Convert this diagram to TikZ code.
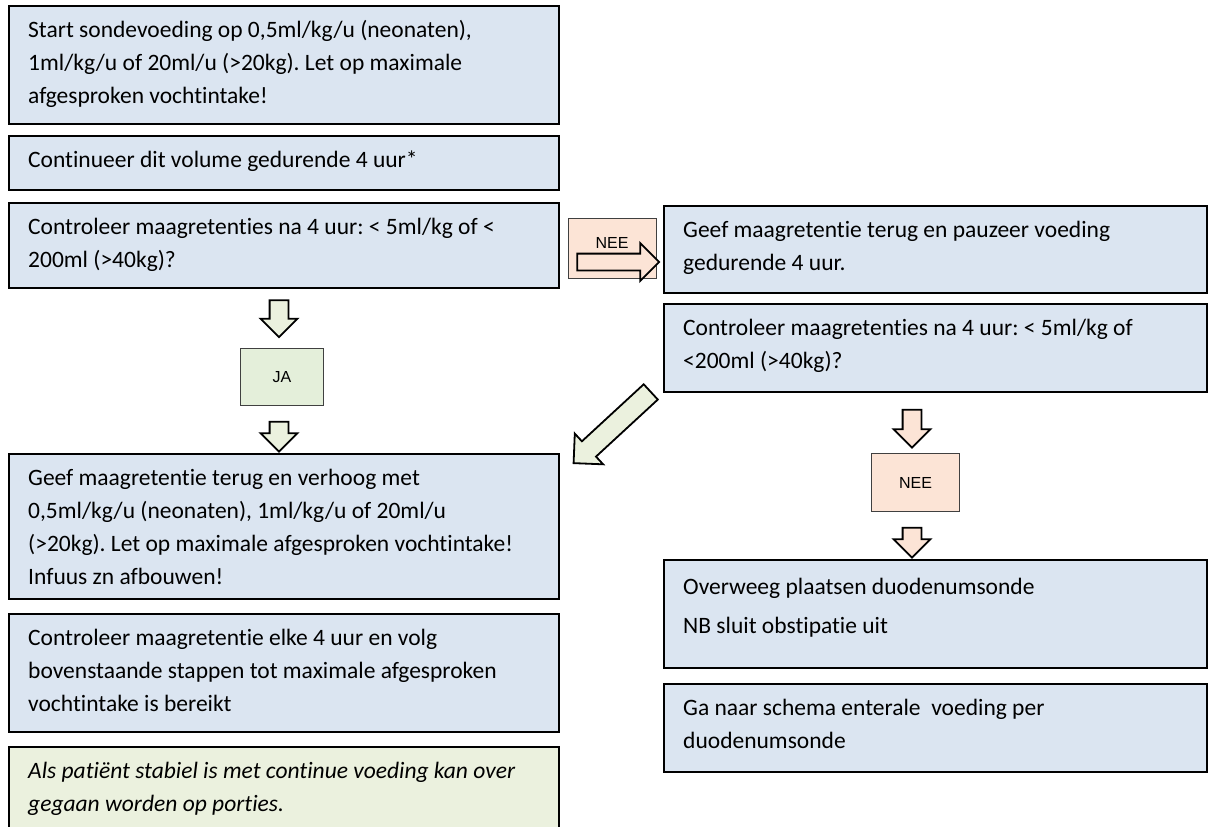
\documentclass[tikz,border=0pt]{standalone}
\usepackage{fontspec}
\setmainfont{Carlito}[Ligatures=NoCommon]
\newfontfamily\labelfont{Liberation Sans}
\frenchspacing
\usetikzlibrary{shapes.arrows,calc}
\definecolor{stepblue}{HTML}{DBE5F1}
\definecolor{notegreen}{HTML}{EBF1DE}
\definecolor{yesgreen}{HTML}{E4EFDA}
\definecolor{nopeach}{HTML}{FCE4D6}
\tikzset{
  stepbox/.style={draw=black, line width=1.8pt, fill=stepblue, anchor=north west, inner sep=0pt},
  steptext/.style={anchor=north west, inner sep=0pt, align=left, font=\fontsize{23.5}{33}\selectfont},
  labelbox/.style={draw=black!75, line width=1pt, anchor=north west, inner sep=0pt},
  labeltext/.style={inner sep=0pt, font=\labelfont\fontsize{16}{19}\selectfont},
  blockarrow/.style={single arrow, draw=black, line width=1.8pt, inner xsep=0pt,
    inner ysep=8.5pt, single arrow head extend=9pt, minimum width=35pt, minimum height=37pt},
}
\begin{document}
\begin{tikzpicture}[x=1pt,y=-1pt]
\useasboundingbox (0,0) rectangle (1208,827);

% left column
\node[stepbox, minimum width=550, minimum height=118] (s1) at (8,5) {};
\node[steptext] (t1) at ($(s1.north west)+(20,9)$) {\strut Start sondevoeding op 0,5ml/kg/u (neonaten),\\1ml/kg/u of 20ml/u (>20kg). Let op maximale\\afgesproken vochtintake!};

\node[stepbox, minimum width=550, minimum height=54] (s2) at (8,135) {};
\node[steptext] (t2) at ($(s2.north west)+(20,9)$) {\strut Continueer dit volume gedurende 4 uur*};

\node[stepbox, minimum width=550, minimum height=85] (s3) at (8,202) {};
\node[steptext] (t3) at ($(s3.north west)+(20,9)$) {\strut Controleer maagretenties na 4 uur: < 5ml/kg of <\\200ml (>40kg)?};

\node[blockarrow, fill=notegreen, rotate=-90] (a1) at (279,314) {};
\node[labelbox, fill=yesgreen, minimum width=83, minimum height=57] (ja) at (240,348) {};
\node[labeltext] (jat) at (ja.center) {JA};
\node[blockarrow, fill=notegreen, rotate=-90, minimum height=30pt] (a2) at (279,432) {};

\node[stepbox, minimum width=550, minimum height=145] (s4) at (8,453) {};
\node[steptext] (t4) at ($(s4.north west)+(20,9)$) {\strut Geef maagretentie terug en verhoog met\\0,5ml/kg/u (neonaten), 1ml/kg/u of 20ml/u\\(>20kg). Let op maximale afgesproken vochtintake!\\Infuus zn afbouwen!};

\node[stepbox, minimum width=550, minimum height=118] (s5) at (8,613) {};
\node[steptext] (t5) at ($(s5.north west)+(20,9)$) {\strut Controleer maagretentie elke 4 uur en volg\\bovenstaande stappen tot maximale afgesproken\\vochtintake is bereikt};

\node[stepbox, fill=notegreen, minimum width=550, minimum height=110] (s6) at (8,746) {};
\node[steptext, font=\fontsize{23.5}{33}\selectfont\itshape] (t6) at ($(s6.north west)+(20,9)$) {\strut Als patiënt stabiel is met continue voeding kan over\\gegaan worden op porties.};

% "no" branch
\node[labelbox, fill=nopeach, minimum width=88, minimum height=60] (nee1) at (568,218) {};
\node[labeltext] (nee1t) at (612,243) {NEE};
\node[blockarrow, fill=nopeach, minimum height=82pt, minimum width=36pt,
  inner ysep=7.5pt, single arrow head extend=10.5pt] (a3) at (614,262) {};

\node[stepbox, minimum width=543, minimum height=87] (r1) at (663,205) {};
\node[steptext] (u1) at ($(r1.north west)+(20,9)$) {\strut Geef maagretentie terug en pauzeer voeding\\gedurende 4 uur.};

\node[stepbox, minimum width=543, minimum height=88] (r2) at (663,303) {};
\node[steptext] (u2) at ($(r2.north west)+(20,9)$) {\strut Controleer maagretenties na 4 uur: < 5ml/kg of\\<200ml (>40kg)?};

\node[blockarrow, fill=notegreen, rotate=222.7, minimum height=105pt, minimum width=40pt,
  inner ysep=9.5pt, single arrow head extend=10.5pt] (a4) at (616,424) {};

\node[blockarrow, fill=nopeach, rotate=-90, minimum height=38pt] (a5) at (912,424) {};
\node[labelbox, fill=nopeach, minimum width=88, minimum height=58] (nee2) at (871,453) {};
\node[labeltext] (nee2t) at (nee2.center) {NEE};
\node[blockarrow, fill=nopeach, rotate=-90, minimum height=30pt] (a6) at (912,538) {};

\node[stepbox, minimum width=543, minimum height=108] (r3) at (663,559) {};
\node[steptext] (u3) at ($(r3.north west)+(20,12)$) {\strut Overweeg plaatsen duodenumsonde\\[6pt]NB sluit obstipatie uit};

\node[stepbox, minimum width=543, minimum height=88] (r4) at (663,683) {};
\node[steptext] (u4) at ($(r4.north west)+(20,9)$) {\strut Ga naar schema enterale\ \ voeding per\\duodenumsonde};
\end{tikzpicture}
\end{document}
